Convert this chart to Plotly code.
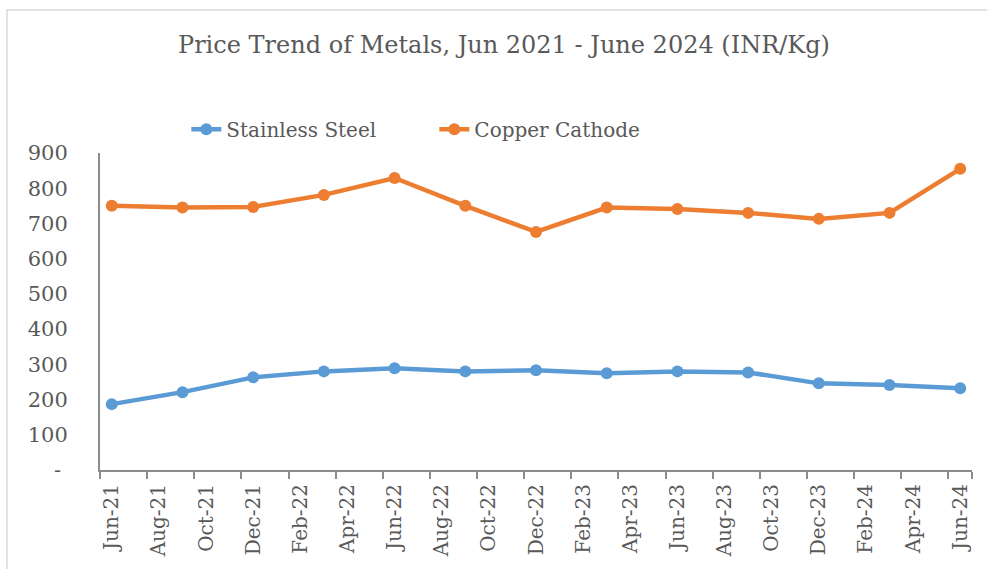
import plotly.graph_objects as go

# month slots on the axis (Excel-style date axis, one slot per month)
months = ["Jun-21", "Jul-21", "Aug-21", "Sep-21", "Oct-21", "Nov-21", "Dec-21",
          "Jan-22", "Feb-22", "Mar-22", "Apr-22", "May-22", "Jun-22", "Jul-22",
          "Aug-22", "Sep-22", "Oct-22", "Nov-22", "Dec-22", "Jan-23", "Feb-23",
          "Mar-23", "Apr-23", "May-23", "Jun-23", "Jul-23", "Aug-23", "Sep-23",
          "Oct-23", "Nov-23", "Dec-23", "Jan-24", "Feb-24", "Mar-24", "Apr-24",
          "May-24", "Jun-24"]

# quarterly observations
obs_months = ["Jun-21", "Sep-21", "Dec-21", "Mar-22", "Jun-22", "Sep-22", "Dec-22",
              "Mar-23", "Jun-23", "Sep-23", "Dec-23", "Mar-24", "Jun-24"]
stainless_steel = [187, 221, 263, 280, 289, 280, 283, 275, 280, 277, 246, 241, 232]
copper_cathode = [750, 745, 747, 781, 829, 750, 676, 745, 741, 730, 713, 730, 855]

y_ticks = [0, 100, 200, 300, 400, 500, 600, 700, 800, 900]
y_labels = ["-\u00a0" if v == 0 else str(v) for v in y_ticks]

BLUE = "#5B9BD5"
ORANGE = "#ED7D31"
TEXT = "#595959"
AXIS = "#8C8C8C"
FONT = "DejaVu Serif"

x_obs = [months.index(m) for m in obs_months]
label_idx = list(range(0, len(months), 2))

fig = go.Figure()
fig.add_trace(go.Scatter(
    x=x_obs, y=stainless_steel, name="Stainless Steel", mode="lines+markers",
    line=dict(color=BLUE, width=4.5), marker=dict(size=12, color=BLUE),
))
fig.add_trace(go.Scatter(
    x=x_obs, y=copper_cathode, name="Copper Cathode", mode="lines+markers",
    line=dict(color=ORANGE, width=4.5), marker=dict(size=12, color=ORANGE),
))

W, H = 987, 569
L, R, T, B = 100, 15, 153, 97

fig.update_layout(
    width=W, height=H,
    margin=dict(l=L, r=R, t=T, b=B),
    plot_bgcolor="white",
    paper_bgcolor="white",
    font=dict(family=FONT, color=TEXT),
    title=dict(
        text="Price Trend of Metals, Jun 2021 - June 2024 (INR/Kg)",
        x=504 / W, xanchor="center", y=1 - 45 / H, yanchor="middle",
        font=dict(size=24, family=FONT, color=TEXT),
    ),
    showlegend=True,
    legend=dict(
        orientation="h", x=0.099, xanchor="left", y=1.075, yanchor="middle",
        font=dict(size=20, family=FONT, color=TEXT),
        entrywidth=203,
    ),
    xaxis=dict(
        range=[-0.5, len(months) - 0.5],
        tickmode="array", tickvals=label_idx,
        ticktext=[months[i] for i in label_idx],
        tickangle=-90, ticks="", showgrid=False, zeroline=False,
        showline=True, linecolor=AXIS, linewidth=2,
        tickfont=dict(size=20, family=FONT, color=TEXT),
        ticklabelstandoff=4,
        minor=dict(tickvals=[i - 0.5 for i in label_idx] + [len(months) - 0.5],
                   ticks="outside", ticklen=7, tickcolor=AXIS, tickwidth=2,
                   showgrid=False),
    ),
    yaxis=dict(
        range=[0, 900], tickmode="array", tickvals=y_ticks, ticktext=y_labels,
        showgrid=False, zeroline=False, ticks="",
        showline=True, linecolor=AXIS, linewidth=2,
        tickfont=dict(size=21, family=FONT, color=TEXT),
        ticklabelstandoff=26,
    ),
)

# outer chart border (right and bottom edges fall outside the frame)
pw, ph = W - L - R, H - T - B
fig.add_shape(
    type="rect", xref="paper", yref="paper",
    x0=(7 - L) / pw, x1=(995 - L) / pw,
    y0=(H - B - 580) / ph, y1=(H - B - 9) / ph,
    line=dict(color="#D9D9D9", width=1.5), layer="below",
)

fig.write_html("out.html", config={"displayModeBar": False},
               post_script="document.body.style.margin='0';")
